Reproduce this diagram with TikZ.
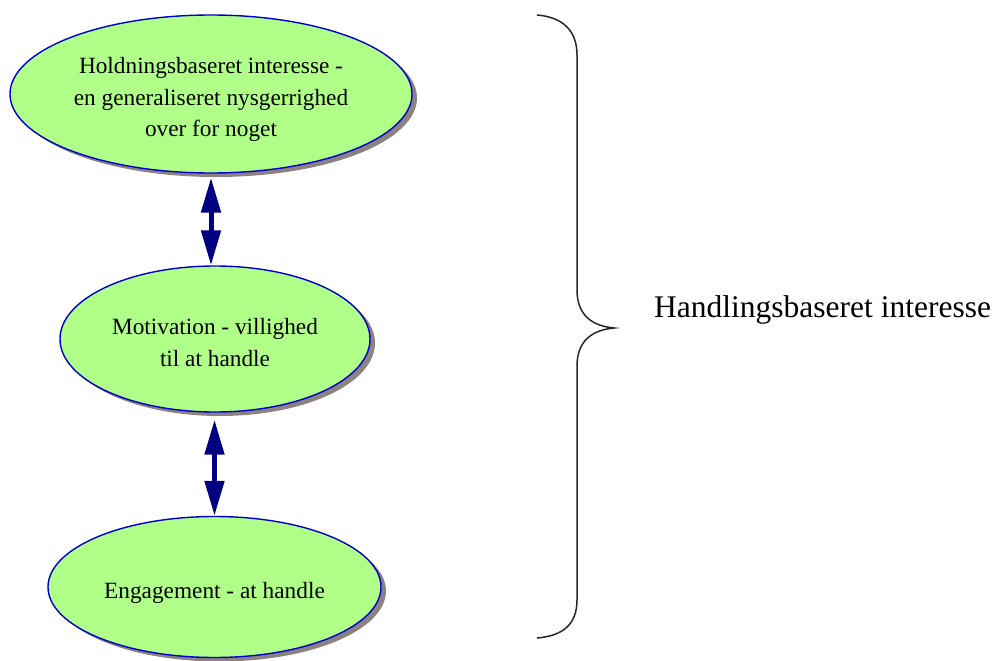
\documentclass[tikz,border=0pt]{standalone}
\usepackage{fontspec}
\setmainfont{Liberation Serif}
\usetikzlibrary{shapes.geometric,shadows,arrows.meta}
\definecolor{efill}{HTML}{B0FF88}
\definecolor{eborder}{HTML}{0000CC}
\definecolor{eshadow}{HTML}{8C8282}
\definecolor{arrnavy}{HTML}{000080}
\newcommand{\ovaltext}[1]{\raisebox{-5pt}[\height][\depth]{\begin{tabular}{@{}c@{}}#1\end{tabular}}}
\tikzset{
  oval/.style={ellipse, draw=eborder, line width=1.4pt, fill=efill, inner sep=0pt,
    font=\fontsize{23.3}{31.5}\selectfont,
    drop shadow={shadow xshift=5pt, shadow yshift=-4pt, fill=eshadow, opacity=1}},
  dblarrow/.style={arrnavy, line width=5pt,
    {Triangle[length=35pt,width=19pt]}-{Triangle[length=35pt,width=19pt]}},
  bracestyle/.style={line width=1.5pt, draw=black!85}
}
\begin{document}
\begin{tikzpicture}[x=1pt,y=1pt]
\useasboundingbox (0,0) rectangle (997,-661);
\node[oval, minimum width=402pt, minimum height=158pt] (e1) at (211,-94)
  {\ovaltext{Holdningsbaseret interesse -\\en generaliseret nysgerrighed\\over for noget}};
\node[oval, minimum width=310pt, minimum height=146pt] (e2) at (215,-339)
  {\ovaltext{Motivation - villighed\\til at handle}};
\node[oval, minimum width=333pt, minimum height=141pt] (e3) at (214.5,-587)
  {\ovaltext{Engagement - at handle}};
\draw[dblarrow] ([yshift=-4pt]e1.south) -- (e1.south |- e2.north);
\draw[dblarrow] ([yshift=-7pt]e3.north |- e2.south) -- (e3.north);
\coordinate (bt) at (537,-15);
\coordinate (bb) at (537,-638);
\coordinate (tip) at (614,-328);
\draw[bracestyle] (bt) .. controls (562,-17) and (577,-30) .. (577,-55)
  -- (577,-290) .. controls (577,-315) and (592,-326) .. (tip)
  .. controls (592,-330) and (577,-341) .. (577,-366)
  -- (577,-600) .. controls (577,-625) and (562,-636) .. (bb);
\node[anchor=base west, font=\fontsize{31.5}{36}\selectfont, inner sep=0pt] (lbl) at (654,-317) {Handlingsbaseret interesse};
\end{tikzpicture}
\end{document}
